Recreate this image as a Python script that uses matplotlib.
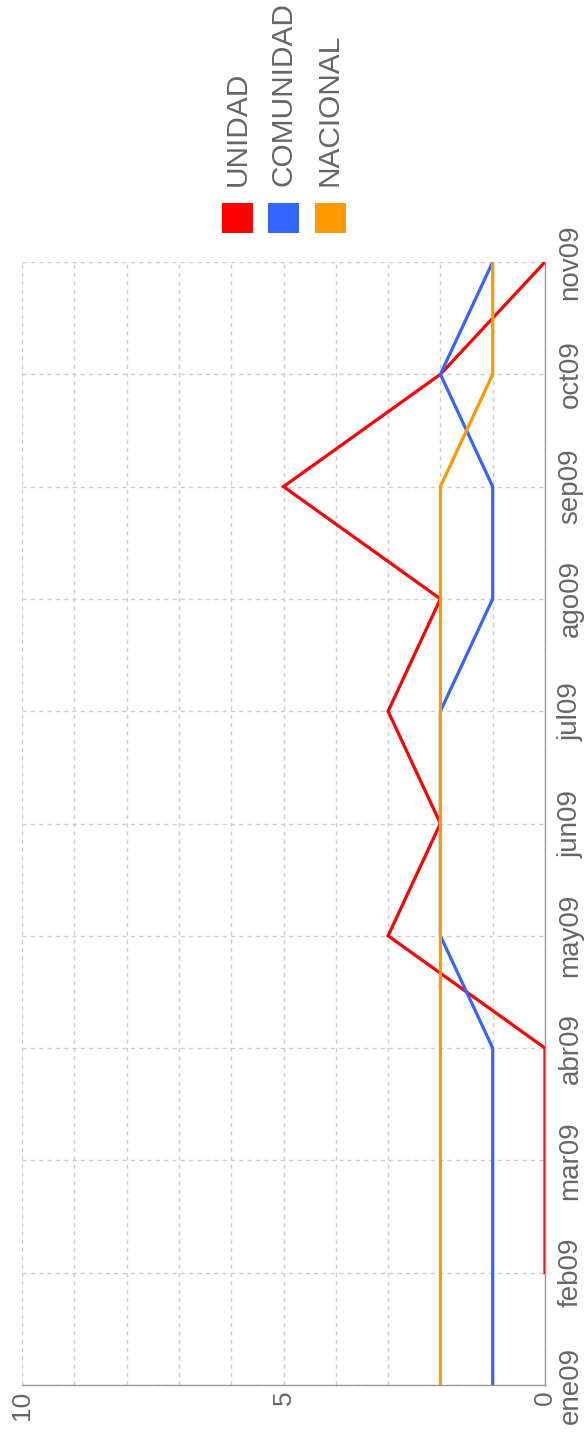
import numpy as np
import matplotlib
matplotlib.use("Agg")
import matplotlib.pyplot as plt
from matplotlib.patches import Rectangle

plt.rcParams['font.family'] = ['Liberation Sans', 'DejaVu Sans']

months = ["ene09", "feb09", "mar09", "abr09", "may09", "jun09",
          "jul09", "ago09", "sep09", "oct09", "nov09"]
unidad = [np.nan, 0, 0, 0, 3, 2, 3, 2, 5, 2, 0]
comunidad = [1, 1, 1, 1, 2, 2, 2, 1, 1, 2, 1]
nacional = [2, 2, 2, 2, 2, 2, 2, 2, 2, 1, 1]
series_names = ["UNIDAD", "COMUNIDAD", "NACIONAL"]
series_colors = ["#ff0000", "#3366ff", "#ff9900"]
value_ticks = [10, 5, 0]

W, H = 585, 1432
fig = plt.figure(figsize=(W / 100, H / 100), dpi=100)
ax = fig.add_axes([22 / W, 1 - 1385 / H, (545 - 22) / W, (1385 - 262) / H])

pos = np.arange(len(months))
data = [unidad, comunidad, nacional]
for vals, col in zip(data, series_colors):
    ax.plot(vals, pos, color=col, lw=2.3, solid_joinstyle='miter', zorder=2)

ax.set_xlim(10, 0)
ax.set_ylim(0, len(months) - 1)

ax.set_xticks(np.arange(0, 11))
ax.set_xticklabels([str(v) if v in value_ticks else "" for v in range(11)],
                   rotation=90, fontsize=19, color="#666666")
ax.set_yticks(pos)
ax.yaxis.tick_right()
ax.set_yticklabels(months, rotation=90, fontsize=20, color="#666666",
                   va="center")
ax.tick_params(axis='y', length=0, pad=9)
ax.tick_params(axis='x', length=0, pad=4)
ax.grid(True, color="#cccccc", linestyle=(0, (3, 3)), lw=1)
ax.set_axisbelow(True)

for s in ["left", "top"]:
    ax.spines[s].set_visible(False)
for s in ["bottom", "right"]:
    ax.spines[s].set_color("#999999")
    ax.spines[s].set_linewidth(1)
    ax.spines[s].set_zorder(3)

leg_x = [237.5, 283.5, 330]
for name, col, xc in zip(series_names, series_colors, leg_x):
    fig.patches.append(Rectangle(((xc - 15.5) / W, 1 - 233 / H), 31 / W, 30 / H,
                                 transform=fig.transFigure, facecolor=col,
                                 edgecolor='none'))
    fig.text(xc / W, 1 - 186 / H, name, rotation=90, ha='center', va='bottom',
             fontsize=21.5, color="#666666")

fig.savefig("out.png", dpi=100)
